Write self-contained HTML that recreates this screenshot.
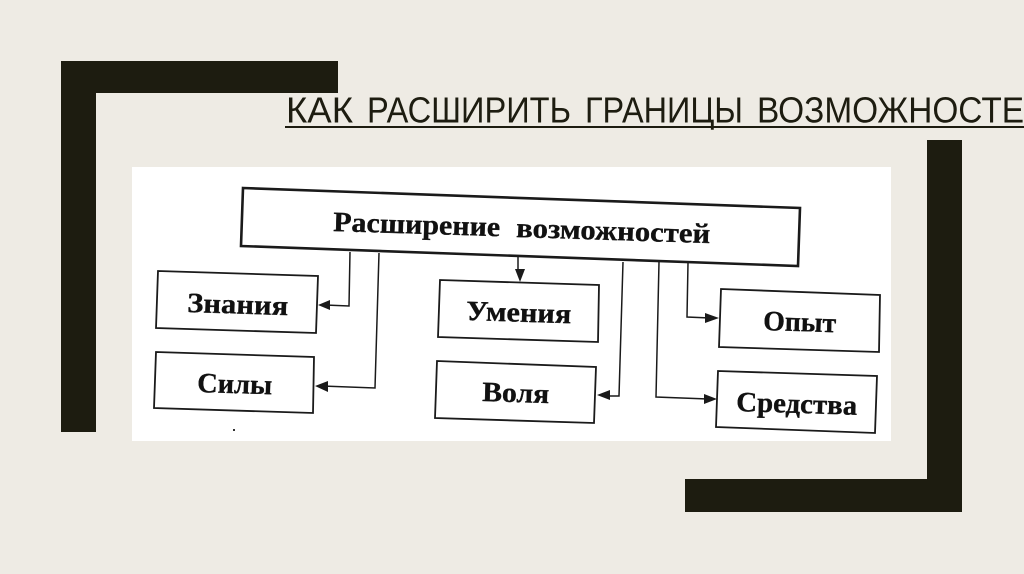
<!DOCTYPE html>
<html lang="ru">
<head>
<meta charset="utf-8">
<title>Как расширить границы возможностей</title>
<style>
html,body{margin:0;padding:0;background:#eeebe4;width:1024px;height:574px;overflow:hidden}
svg{display:block}
.b{font-family:"Liberation Serif","Noto Serif CJK SC",serif;font-weight:700;fill:#111;stroke:#111;stroke-width:.35}
.t{font-family:"Liberation Sans","Noto Sans CJK SC",sans-serif;font-size:36px;fill:#1d1c10}
</style>
</head>
<body>
<svg width="1024" height="574" viewBox="0 0 1024 574" xmlns="http://www.w3.org/2000/svg">
<rect width="1024" height="574" fill="#eeebe4"/>
<polygon points="61,61 338,61 338,93 96,93 96,432 61,432" fill="#1d1c10"/>
<polygon points="927,140 962,140 962,512 685,512 685,479 927,479" fill="#1d1c10"/>
<g class="t">
<text x="286" y="122.500" textLength="67" lengthAdjust="spacingAndGlyphs">КАК</text>
<text x="367" y="122.500" textLength="204" lengthAdjust="spacingAndGlyphs">РАСШИРИТЬ</text>
<text x="585" y="122.500" textLength="158" lengthAdjust="spacingAndGlyphs">ГРАНИЦЫ</text>
<text x="757" y="122.500" textLength="291" lengthAdjust="spacingAndGlyphs">ВОЗМОЖНОСТЕЙ</text>
</g>
<rect x="285" y="126" width="739" height="2" fill="#1d1c10"/>
<rect x="132" y="167" width="759" height="274" fill="#fff"/>
<g fill="#fff" stroke="#1a1a1a" stroke-linejoin="miter">
<polygon points="243,188 800,208 798,266 241,246" stroke-width="2.600"/>
<polygon points="158,271 318,276 316,333 156,328" stroke-width="1.800"/>
<polygon points="156,352 314,357 313,413 154,408" stroke-width="1.800"/>
<polygon points="440,280 599,285 598,342 438,337" stroke-width="1.800"/>
<polygon points="437,361 596,367 594,423 435,418" stroke-width="1.800"/>
<polygon points="721,289 880,295 879,352 719,347" stroke-width="1.800"/>
<polygon points="718,371 877,376 875,433 716,427" stroke-width="1.800"/>
</g>
<g fill="none" stroke="#1a1a1a" stroke-width="1.500">
<polyline points="350,252 349,306 325,305"/>
<polyline points="379,253 375,388 322,386"/>
<line x1="518" y1="255" x2="518" y2="272"/>
<polyline points="623,262 619,396 605,396"/>
<polyline points="688,263 687,317 710,318"/>
<polyline points="659,262 656,397 708,399"/>
</g>
<g fill="#1a1a1a">
<polygon points="318,305 330,300 330,310"/>
<polygon points="315,386 328,381 328,392"/>
<polygon points="520,282 515,269 525,269"/>
<polygon points="597,395 610,390 610,400"/>
<polygon points="719,318 705,313 705,323"/>
<polygon points="717,399 704,394 704,404"/>
</g>
<g class="b" font-size="28">
<text transform="translate(333,231) rotate(1.800)" textLength="167" lengthAdjust="spacingAndGlyphs">Расширение</text>
<text transform="translate(516,237) rotate(1.800)" textLength="194" lengthAdjust="spacingAndGlyphs">возможностей</text>
<text transform="translate(187,312) rotate(1.800)" textLength="101" lengthAdjust="spacingAndGlyphs">Знания</text>
<text transform="translate(197,392) rotate(1.800)" textLength="75" lengthAdjust="spacingAndGlyphs">Силы</text>
<text transform="translate(466,320) rotate(1.800)" textLength="105" lengthAdjust="spacingAndGlyphs">Умения</text>
<text transform="translate(482,401) rotate(1.800)" textLength="67" lengthAdjust="spacingAndGlyphs">Воля</text>
<text transform="translate(763,330) rotate(1.800)" textLength="73" lengthAdjust="spacingAndGlyphs">Опыт</text>
<text transform="translate(736,411) rotate(1.800)" textLength="121" lengthAdjust="spacingAndGlyphs">Средства</text>
</g>
<rect x="233" y="429" width="2" height="2" fill="#333"/>
</svg>
</body>
</html>
